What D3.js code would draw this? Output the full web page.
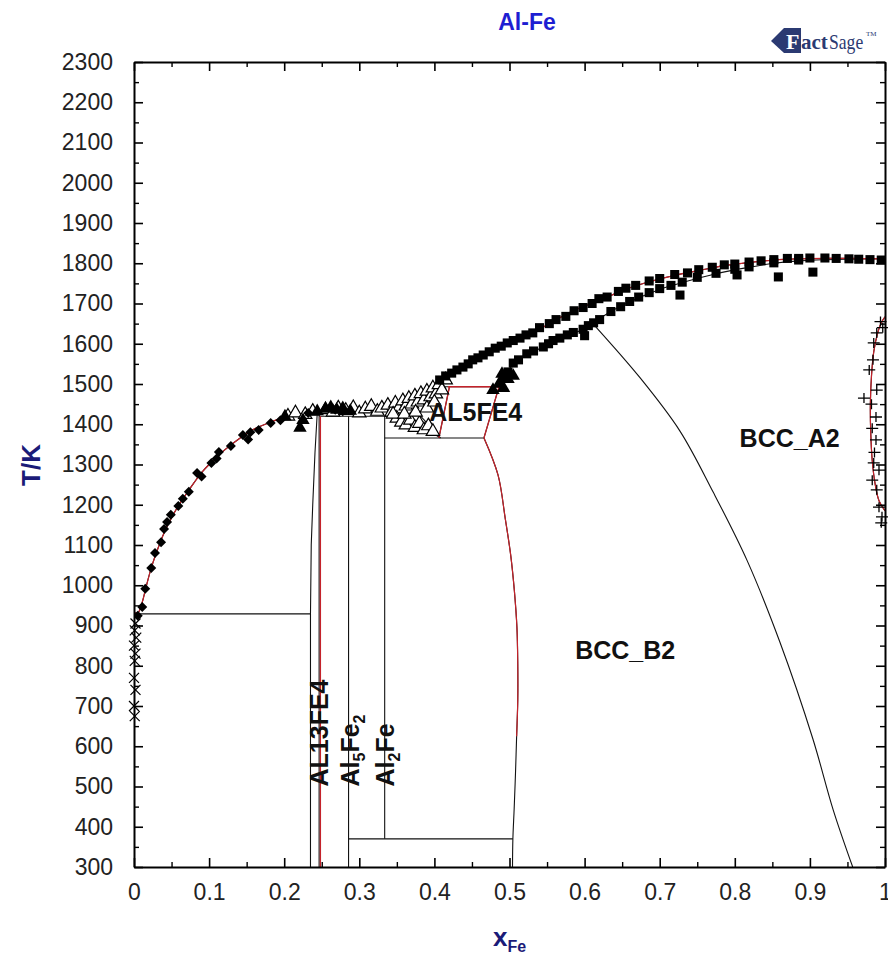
<!DOCTYPE html>
<html lang="en">
<head>
<meta charset="UTF-8">
<title>Al-Fe</title>
<script src="https://cdn.jsdelivr.net/npm/d3@7"></script>
<style>
  body { margin: 0; background: #fff; }
  svg { display: block; font-family: "Liberation Sans", Arial, sans-serif; }
</style>
</head>
<body>
<svg id="chart" width="888" height="956"></svg>
<script>
// x = mole fraction Fe, T in K
var xTicks = [0, 0.1, 0.2, 0.3, 0.4, 0.5, 0.6, 0.7, 0.8, 0.9, 1];
var yTicks = [300, 400, 500, 600, 700, 800, 900, 1000, 1100, 1200, 1300, 1400, 1500,
              1600, 1700, 1800, 1900, 2000, 2100, 2200, 2300];

// calculated phase boundaries
var liqAl = [[0, 933], [0.005, 931], [0.011, 958], [0.016, 995], [0.023, 1043], [0.03, 1082],
             [0.04, 1130], [0.05, 1168], [0.06, 1200], [0.07, 1228], [0.08, 1255], [0.09, 1280],
             [0.1, 1300], [0.12, 1335], [0.14, 1364], [0.16, 1388], [0.18, 1404], [0.2, 1417],
             [0.22, 1425], [0.2465, 1432]];
var liqMid = [[0.2465, 1432], [0.26, 1437], [0.2857, 1442], [0.31, 1440], [0.3338, 1441],
              [0.35, 1445], [0.365, 1456], [0.38, 1472], [0.393, 1490], [0.407, 1508]];
var liqUpper = [[0.407, 1508], [0.423, 1525], [0.438, 1541], [0.451, 1556], [0.465, 1570],
                [0.481, 1587], [0.497, 1600], [0.514, 1613], [0.531, 1627], [0.553, 1650],
                [0.586, 1683], [0.619, 1707], [0.653, 1734], [0.686, 1754], [0.72, 1770],
                [0.752, 1782], [0.786, 1794], [0.819, 1802], [0.852, 1808], [0.885, 1811],
                [0.92, 1812], [0.952, 1812], [1.0, 1811]];
var solidusB2 = [[0.486, 1493], [0.492, 1515], [0.505, 1550], [0.523, 1573], [0.545, 1592],
                 [0.56, 1606], [0.577, 1620], [0.598, 1636], [0.635, 1680], [0.672, 1714],
                 [0.70, 1735], [0.73, 1752], [0.775, 1774], [0.819, 1790], [0.852, 1800],
                 [0.885, 1806], [0.95, 1810], [1.0, 1811]];
var orderB2A2 = [[0.611, 1650], [0.674, 1515], [0.727, 1383], [0.771, 1232], [0.816, 1063],
                 [0.86, 859], [0.904, 618], [0.931, 442], [0.957, 300]];
var b2Boundary = [[0.466, 1366], [0.4847, 1274], [0.4944, 1165], [0.5016, 1075], [0.5065, 986],
                  [0.5099, 895], [0.511, 805], [0.511, 715], [0.5095, 625], [0.508, 534],
                  [0.5062, 444], [0.5045, 370], [0.504, 300]];
var al13Left = [[0.244, 1428], [0.241, 1330], [0.238, 1200], [0.236, 1100], [0.235, 929], [0.235, 300]];
var al13Right = [[0.2465, 1432], [0.2465, 300]];
var al13RightRed = [[0.2482, 1420], [0.2482, 300]];
var al5fe4Left = [[0.42, 1493], [0.406, 1366]];
var al5fe4Right = [[0.486, 1493], [0.466, 1366]];
var gammaLoop = [[1.0, 1667], [0.995, 1652], [0.99, 1625], [0.985, 1580], [0.982, 1520],
                 [0.9805, 1450], [0.981, 1380], [0.983, 1310], [0.987, 1250], [0.992, 1210], [1.0, 1185]];
// straight segments [x1, T1, x2, T2]
var segments = [[0, 929, 0.235, 929], [0.2465, 1420, 0.368, 1420], [0.3338, 1366, 0.466, 1366],
                [0.2857, 370, 0.5045, 370], [0.405, 1493, 0.486, 1493],
                [0.2857, 1420, 0.2857, 300], [0.3338, 1420, 0.3338, 370],
                [0.362, 1422, 0.408, 1366], [0.372, 1440, 0.408, 1366]];
var redSegments = [[0.418, 1493, 0.486, 1493]];

// experimental points
var diamonds = [[0.005, 924], [0.011, 946], [0.015, 991], [0.023, 1043], [0.028, 1080], [0.036, 1107],
                [0.04, 1140], [0.044, 1157], [0.049, 1175], [0.059, 1197], [0.065, 1215], [0.073, 1232],
                [0.084, 1279], [0.09, 1270], [0.103, 1304], [0.11, 1315], [0.113, 1331], [0.129, 1346],
                [0.145, 1373], [0.152, 1362], [0.155, 1380], [0.166, 1386], [0.182, 1403], [0.195, 1410],
                [0.232, 1428], [0.268, 1436], [0.278, 1432]];
var crosses = [[0.002, 905], [0.001, 888], [0.003, 870], [0.0, 850], [0.002, 830], [0.001, 812],
               [0.0, 770], [0.002, 740], [0.0, 700], [0.001, 675]];
var triOpen = [[0.205, 1420], [0.215, 1428], [0.228, 1424], [0.238, 1432], [0.255, 1436], [0.265, 1430],
               [0.272, 1440], [0.282, 1434], [0.292, 1441], [0.30, 1428], [0.308, 1438], [0.316, 1444],
               [0.324, 1432], [0.33, 1440], [0.338, 1447], [0.343, 1430], [0.348, 1452], [0.352, 1438],
               [0.358, 1458], [0.362, 1445], [0.366, 1464], [0.37, 1450], [0.374, 1470], [0.378, 1455],
               [0.382, 1476], [0.386, 1460], [0.39, 1482], [0.395, 1468], [0.398, 1490], [0.402, 1475],
               [0.406, 1498], [0.41, 1485], [0.35, 1415], [0.356, 1405], [0.362, 1398], [0.368, 1410],
               [0.374, 1392], [0.38, 1402], [0.386, 1386], [0.392, 1396], [0.398, 1382], [0.345, 1425],
               [0.36, 1425], [0.375, 1430], [0.39, 1440], [0.4, 1455], [0.415, 1510]];
var triFilled = [[0.201, 1419], [0.221, 1391], [0.225, 1410], [0.244, 1432], [0.255, 1438], [0.262, 1442],
                 [0.27, 1436], [0.278, 1440], [0.288, 1433], [0.478, 1485], [0.486, 1500], [0.492, 1490],
                 [0.498, 1512], [0.505, 1520], [0.49, 1525]];
var sqUpper = [[0.407, 1510], [0.415, 1520], [0.423, 1527], [0.43, 1535], [0.438, 1542], [0.445, 1550],
               [0.451, 1560], [0.458, 1565], [0.465, 1572], [0.473, 1580], [0.481, 1589], [0.489, 1594],
               [0.497, 1602], [0.505, 1608], [0.514, 1614], [0.522, 1622], [0.531, 1627], [0.54, 1640],
               [0.553, 1650], [0.562, 1660], [0.575, 1668], [0.586, 1682], [0.598, 1690], [0.61, 1700],
               [0.619, 1712], [0.63, 1716], [0.645, 1730], [0.655, 1738], [0.668, 1745], [0.686, 1756],
               [0.70, 1762], [0.72, 1772], [0.737, 1776], [0.752, 1784], [0.77, 1790], [0.786, 1796],
               [0.80, 1798], [0.819, 1803], [0.835, 1806], [0.852, 1809], [0.87, 1812], [0.885, 1812],
               [0.90, 1813], [0.92, 1813], [0.935, 1812], [0.952, 1811], [0.965, 1810], [0.98, 1809],
               [0.995, 1808]];
var sqLower = [[0.492, 1515], [0.498, 1530], [0.505, 1552], [0.512, 1560], [0.523, 1575], [0.532, 1582],
               [0.545, 1592], [0.552, 1600], [0.558, 1608], [0.567, 1614], [0.577, 1622], [0.585, 1628],
               [0.598, 1636], [0.605, 1645], [0.612, 1652], [0.62, 1660], [0.635, 1680], [0.648, 1692],
               [0.66, 1705], [0.672, 1716], [0.686, 1727], [0.70, 1737], [0.715, 1745], [0.73, 1753],
               [0.75, 1765], [0.775, 1775], [0.80, 1785], [0.819, 1791], [0.852, 1801], [0.885, 1808],
               [0.727, 1721], [0.803, 1771], [0.858, 1766], [0.904, 1778], [0.60, 1620]];
var pluses = [[0.994, 1655], [0.989, 1627], [0.985, 1602], [0.979, 1535], [0.972, 1465], [0.989, 1485],
              [0.988, 1418], [0.988, 1361], [0.985, 1304], [0.983, 1261], [0.989, 1237], [0.992, 1194],
              [0.995, 1155], [0.992, 1286], [0.984, 1560], [0.982, 1450], [0.983, 1390], [0.986, 1330],
              [0.997, 1640], [0.996, 1170]];

// phase labels [text, x, T]
var phaseLabels = [["AL5FE4", 0.455, 1408], ["BCC_A2", 0.873, 1343], ["BCC_B2", 0.654, 817]];

var svg = d3.select("#chart");
var x = d3.scaleLinear().domain([0, 1]).range([134, 885]);
var y = d3.scaleLinear().domain([300, 2300]).range([867, 62]);
var BLACK = "#111", RED = "#c4222a", NAVY = "#1b1b78";

svg.append("defs").append("clipPath").attr("id", "plot")
    .append("rect").attr("x", 134).attr("y", 62).attr("width", 754).attr("height", 805);

var g = svg.append("g").attr("clip-path", "url(#plot)");

var smooth = d3.line().curve(d3.curveCatmullRom.alpha(0.5))
    .x(function (d) { return x(d[0]); }).y(function (d) { return y(d[1]); });
var straight = d3.line()
    .x(function (d) { return x(d[0]); }).y(function (d) { return y(d[1]); });

function curve(data, color, w, gen) {
    g.append("path").attr("d", (gen || smooth)(data))
        .attr("fill", "none").attr("stroke", color).attr("stroke-width", w);
}

// black calculated lines
[liqAl, liqMid, liqUpper, solidusB2, orderB2A2, b2Boundary, gammaLoop].forEach(function (c) {
    curve(c, BLACK, 1.1);
});
[al13Left, al13Right, al5fe4Left, al5fe4Right].forEach(function (c) {
    curve(c, BLACK, 1.1, straight);
});
g.selectAll(".seg").data(segments).join("line").attr("class", "seg")
    .attr("x1", function (d) { return x(d[0]); }).attr("y1", function (d) { return y(d[1]); })
    .attr("x2", function (d) { return x(d[2]); }).attr("y2", function (d) { return y(d[3]); })
    .attr("stroke", BLACK).attr("stroke-width", 1.1);

// red overlay (second calculation)
[liqAl, liqUpper, gammaLoop].forEach(function (c) { curve(c, RED, 1.2); });
curve(b2Boundary.filter(function (d) { return d[1] > 600; }), RED, 1.2);
[al13RightRed, al5fe4Left, al5fe4Right].forEach(function (c) { curve(c, RED, 1.3, straight); });
g.selectAll(".rseg").data(redSegments).join("line").attr("class", "rseg")
    .attr("x1", function (d) { return x(d[0]); }).attr("y1", function (d) { return y(d[1]); })
    .attr("x2", function (d) { return x(d[2]); }).attr("y2", function (d) { return y(d[3]); })
    .attr("stroke", RED).attr("stroke-width", 1.4);

// markers
function place(d) { return "translate(" + x(d[0]) + "," + y(d[1]) + ")"; }
var triPath = d3.symbol().type(d3.symbolTriangle).size(78)();
var sqPath = d3.symbol().type(d3.symbolSquare).size(82)();

g.selectAll(".tri-o").data(triOpen).join("path").attr("class", "tri-o")
    .attr("d", triPath).attr("transform", place)
    .attr("fill", "#fff").attr("stroke", "#000").attr("stroke-width", 1.2);
g.selectAll(".tri-f").data(triFilled).join("path").attr("class", "tri-f")
    .attr("d", triPath).attr("transform", place).attr("fill", "#000");
g.selectAll(".dia").data(diamonds).join("path").attr("class", "dia")
    .attr("d", "M0,-5L5,0L0,5L-5,0Z").attr("transform", place).attr("fill", "#000");
g.selectAll(".sq").data(sqUpper.concat(sqLower)).join("path").attr("class", "sq")
    .attr("d", sqPath).attr("transform", place).attr("fill", "#000");
g.selectAll(".pls").data(pluses).join("path").attr("class", "pls")
    .attr("d", "M-6,0H6M0,-5V5").attr("transform", place)
    .attr("stroke", "#000").attr("stroke-width", 1.3);
// crosses sit on the axis, left unclipped
svg.selectAll(".crs").data(crosses).join("path").attr("class", "crs")
    .attr("d", "M-5,-5L5,5M-5,5L5,-5").attr("transform", place)
    .attr("stroke", "#000").attr("stroke-width", 1.2);

// axes
var xMinor = d3.range(0.05, 1, 0.1), yMinor = d3.range(350, 2300, 100);
function styleAxis(sel) {
    sel.attr("font-size", 23).attr("font-family", "'Liberation Sans', Arial, sans-serif");
    sel.select(".domain").attr("stroke", "#000").attr("stroke-width", 2);
    sel.selectAll(".tick line").attr("stroke", "#000").attr("stroke-width", 1.6);
    sel.selectAll(".tick text").attr("fill", "#222");
}
function minorAxis(axis, tr) {
    var a = svg.append("g").attr("transform", tr).call(axis.tickFormat("").tickSize(-5).tickSizeOuter(0));
    a.select(".domain").remove();
    a.selectAll(".tick line").attr("stroke", "#000").attr("stroke-width", 1.4);
}
minorAxis(d3.axisBottom(x).tickValues(xMinor), "translate(0,867)");
minorAxis(d3.axisTop(x).tickValues(xMinor), "translate(0,62)");
minorAxis(d3.axisLeft(y).tickValues(yMinor), "translate(134,0)");
minorAxis(d3.axisRight(y).tickValues(yMinor), "translate(885,0)");

svg.append("g").attr("transform", "translate(0,867)")
    .call(d3.axisBottom(x).tickValues(xTicks).tickSize(-9).tickSizeOuter(0).tickPadding(17)
        .tickFormat(d3.format("~g")))
    .call(styleAxis);
svg.append("g").attr("transform", "translate(0,62)")
    .call(d3.axisTop(x).tickValues(xTicks).tickSize(-9).tickSizeOuter(0).tickFormat(""))
    .call(styleAxis);
svg.append("g").attr("transform", "translate(134,0)")
    .call(d3.axisLeft(y).tickValues(yTicks).tickSize(-9).tickSizeOuter(0).tickPadding(21)
        .tickFormat(d3.format("d")))
    .call(styleAxis);
svg.append("g").attr("transform", "translate(885,0)")
    .call(d3.axisRight(y).tickValues(yTicks).tickSize(-9).tickSizeOuter(0).tickFormat(""))
    .call(styleAxis);

// phase labels
svg.selectAll(".plabel").data(phaseLabels).join("text").attr("class", "plabel")
    .attr("x", function (d) { return x(d[1]); }).attr("y", function (d) { return y(d[2]); })
    .attr("text-anchor", "middle").attr("font-size", 25).attr("font-weight", "bold")
    .attr("fill", "#111").text(function (d) { return d[0]; });

// vertical compound labels: [parts, x, T(bottom)]
var vLabels = [[[["AL13FE4", 0]], 0.2578, 500],
               [[["Al", 0], ["5", 1], ["Fe", 0], ["2", 1]], 0.3, 500],
               [[["Al", 0], ["2", 1], ["Fe", 0]], 0.3462, 500]];
vLabels.forEach(function (v) {
    var t = svg.append("text")
        .attr("transform", "translate(" + x(v[1]) + "," + y(v[2]) + ") rotate(-90)")
        .attr("font-size", 25).attr("font-weight", "bold").attr("fill", "#111");
    var prevSub = 0;
    v[0].forEach(function (p) {
        var dy = p[1] === prevSub ? 0 : (p[1] ? 6 : -6);
        t.append("tspan").attr("dy", dy).attr("font-size", p[1] ? 16 : 25).text(p[0]);
        prevSub = p[1];
    });
});

// title, axis titles
svg.append("text").attr("x", 527).attr("y", 30).attr("text-anchor", "middle")
    .attr("font-size", 23).attr("font-weight", "bold").attr("fill", "#1e1ed2").text("Al-Fe");
svg.append("text").attr("transform", "translate(40,465) rotate(-90)").attr("text-anchor", "middle")
    .attr("font-size", 26).attr("font-weight", "bold").attr("fill", NAVY).text("T/K");
var xl = svg.append("text").attr("x", 493).attr("y", 946)
    .attr("font-size", 26).attr("font-weight", "bold").attr("fill", NAVY);
xl.append("tspan").text("x");
xl.append("tspan").attr("dy", 6).attr("font-size", 16).text("Fe");

// FactSage logo
var logo = svg.append("g").attr("fill", "#2b3a72");
logo.append("path").attr("d", "M771,41 L784,28 L801,28 L801,53 L784,53 Z");
logo.append("text").attr("x", 786).attr("y", 49).attr("fill", "#fff")
    .attr("font-family", "'Liberation Serif', serif").attr("font-weight", "bold").attr("font-size", 22).text("F");
logo.append("text").attr("x", 801).attr("y", 49)
    .attr("font-family", "'Liberation Serif', serif").attr("font-weight", "bold").attr("font-size", 21).text("act");
logo.append("text").attr("transform", "translate(829,49) scale(0.8,1)")
    .attr("font-family", "'Liberation Serif', serif").attr("font-size", 22).text("Sage");
logo.append("text").attr("x", 866).attr("y", 36)
    .attr("font-family", "'Liberation Serif', serif").attr("font-size", 7).text("TM");
</script>
</body>
</html>
